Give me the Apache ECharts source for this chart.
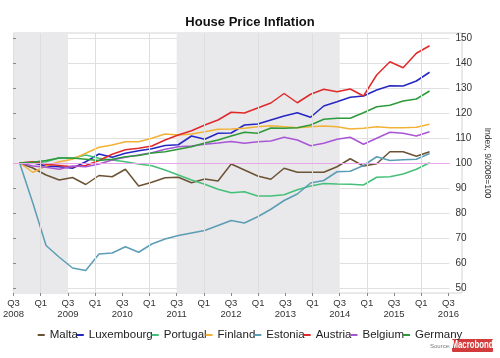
<!DOCTYPE html>
<html><head><meta charset="utf-8">
<script src="https://cdn.jsdelivr.net/npm/echarts@6/dist/echarts.min.js"></script>
<style>html,body{margin:0;padding:0;background:#fff}#c{width:500px;height:358px}</style>
</head><body><div id="c"></div>
<script>
// Quarterly data Q3 2008 .. Q2 2016 (index, 9/2008 = 100)
const quarterSpan = 33; // Q3 2008 .. Q3 2016 inclusive
const tickLabels = ['Q3\n2008','Q1','Q3\n2009','Q1','Q3\n2010','Q1','Q3\n2011','Q1','Q3\n2012','Q1','Q3\n2013','Q1','Q3\n2014','Q1','Q3\n2015','Q1','Q3\n2016'];
const shadedPeriods = [[0,4],[12,24]];
const yearLines = [2,6,10,14,18,22,26,30];
const seriesNames = ['Malta','Luxembourg','Portugal','Finland','Estonia','Austria','Belgium','Germany'];

const malta = [100,98,95.2,93.2,94.2,91.4,95,94.5,97.5,90.8,92.3,94.1,94.3,92.1,93.6,92.8,99.6,97.2,94.8,93.5,97.9,96.3,96.3,96.3,98.5,101.7,98.8,99.7,104.5,104.5,102.7,104.5];
const luxembourg = [100,100.1,98.8,98.5,97.9,100.5,103.6,102.3,103.9,104.9,105.7,107,107.3,110.8,109.5,111.9,112,115.2,115.6,117.2,118.8,120.1,118.3,122.8,124.5,126.3,126.8,129.2,130.9,130.8,132.8,136.3];
const portugal = [100,100.1,100.5,102.1,101.9,103.2,101.9,101.2,100.5,99.6,98.9,97.2,95.2,93.2,91.5,89.5,88.1,88.5,86.8,86.8,87.3,89.3,90.8,91.8,91.6,91.5,91.2,94.3,94.5,95.6,97.5,100.1];
const finland = [100,96.3,98.8,100.5,101.5,103.9,106.3,107.2,108.5,108.5,109.9,111.6,111.2,111.6,112.5,113.5,113.6,113.9,114.5,114.9,114.5,114.1,114.5,114.8,114.5,113.6,113.9,114.5,114.1,114.1,114.3,115.5];
const estonia = [100,84,67,62.3,58,57,63.6,64,66.5,64.3,67.6,69.6,71,72,73,75,77,76,78.5,81.5,85,87.6,92,93,96.5,96.7,99,102.5,101,101.3,101.5,103.8];
const austria = [100,100.5,99.5,99,98.5,99,101,103.5,105.3,105.9,106.8,109.2,111.2,112.9,115.2,117.2,120.3,120,122,124,127.8,124.1,127.5,129.5,128.5,129.6,126.8,135.2,140.5,138.1,143.9,146.9];
const belgium = [100,98.8,98.3,97.5,98.8,98.5,99.6,101.2,102.3,103.2,104.1,105.5,106.5,106.8,107.5,108,108.6,107.9,108.5,108.8,110.3,109.2,106.9,107.9,109.5,110.3,107.5,109.9,112.3,111.9,110.8,112.5];
const germany = [100,100.3,101,102,102,101.5,101,101.5,102.5,103,104,104.5,105.5,106.5,108,109.2,110.8,112.3,111.9,114,113.9,114.1,115.2,117.5,117.9,117.9,120.1,122.5,123.1,124.8,125.6,128.8];

const allValues = [malta,luxembourg,portugal,finland,estonia,austria,belgium,germany];
const colors = ['#6b5334','#2626c4','#45c07a','#f2b236','#5b9db5','#e02a2a','#a855d6','#2e9a3a'];

const chart = echarts.init(document.getElementById('c'), null, {renderer:'canvas'});
const lineSeries = seriesNames.map((n,k)=>({
  name:n, type:'line', xAxisIndex:0, yAxisIndex:0, z:4,
  showSymbol:false, symbol:'none', smooth:false,
  lineStyle:{width:1.5, color:colors[k]}, itemStyle:{color:colors[k]},
  data: allValues[k].map((v,i)=>[i+0.5, v]),
  emphasis:{disabled:true}
}));
lineSeries[0].markLine = {silent:true, symbol:'none', label:{show:false},
  lineStyle:{color:'#e8a6e8', width:1, type:'solid'}, data:[{yAxis:100}]};

const option = {
  animation:false,
  backgroundColor:'#fff',
  title:{text:'House Price Inflation', left:'center', top:11,
    textStyle:{fontFamily:'Liberation Sans, Arial', fontSize:13, fontWeight:'bold', color:'#111'}},
  legend:{data:seriesNames, left:'center', top:324, icon:'rect', itemWidth:7, itemHeight:2, itemGap:-1,
    textStyle:{fontFamily:'Liberation Sans, Arial', fontSize:11.5, color:'#222'}},
  grid:[
    {left:13, right:38, top:38, bottom:70, show:false},
    {left:13, right:38, top:33, bottom:65, show:true, borderColor:'#d4d4d4', borderWidth:1, backgroundColor:'transparent'}
  ],
  xAxis:[
    {type:'value', gridIndex:0, min:0, max:quarterSpan, show:false, splitLine:{show:false}},
    {type:'value', gridIndex:1, min:0, max:quarterSpan, interval:2, z:1,
      axisLine:{show:false}, splitLine:{show:false},
      axisTick:{show:true, length:3, lineStyle:{color:'#888'}},
      axisLabel:{show:true, margin:5, showMaxLabel:false, fontFamily:'Liberation Sans, Arial', fontSize:9.5, color:'#333', lineHeight:11,
        formatter:v=> (v%2===0 && v/2 < tickLabels.length) ? tickLabels[v/2] : ''}}
  ],
  yAxis:[
    {type:'value', gridIndex:0, position:'right', min:50, max:150, interval:10, offset:3, z:1,
      name:'Index, 9/2008=100', nameLocation:'middle', nameRotate:-90, nameGap:24,
      nameTextStyle:{fontFamily:'Liberation Sans, Arial', fontSize:8.5, color:'#333'},
      axisLine:{show:false},
      axisTick:{show:true, length:3, lineStyle:{color:'#888'}},
      axisLabel:{margin:3, fontFamily:'Liberation Sans, Arial', fontSize:10, color:'#333'},
      splitLine:{show:true, lineStyle:{color:'#e0e0e0', width:1}}},
    {type:'value', gridIndex:1, min:0, max:1, show:false, splitLine:{show:false}}
  ],
  series:[
    {type:'line', xAxisIndex:1, yAxisIndex:1, data:[], z:0, silent:true,
      markArea:{silent:true, itemStyle:{color:'#e9e8ea'},
        data: shadedPeriods.map(p=>[{xAxis:p[0]},{xAxis:p[1]}])}},
    {type:'line', xAxisIndex:1, yAxisIndex:1, data:[], z:0.5, silent:true,
      markLine:{silent:true, symbol:'none', label:{show:false}, lineStyle:{color:'#dedede', width:1, type:'solid'},
        data: yearLines.map(x=>({xAxis:x}))}},
    ...lineSeries
  ],
  graphic:[
    {type:'text', left:430, top:343, style:{text:'Source:', fontSize:6, fill:'#777', fontFamily:'Liberation Sans, Arial'}},
    {type:'rect', left:452, top:339, shape:{width:41, height:13, r:1}, style:{fill:'#d23b3b'}},
    {type:'text', x:472.5, y:345.5, scaleX:0.78, style:{text:'Macrobond', fontSize:10, fontWeight:'bold', fill:'#fff', align:'center', verticalAlign:'middle', fontFamily:'Liberation Sans, Arial'}}
  ]
};
chart.setOption(option);
</script></body></html>
